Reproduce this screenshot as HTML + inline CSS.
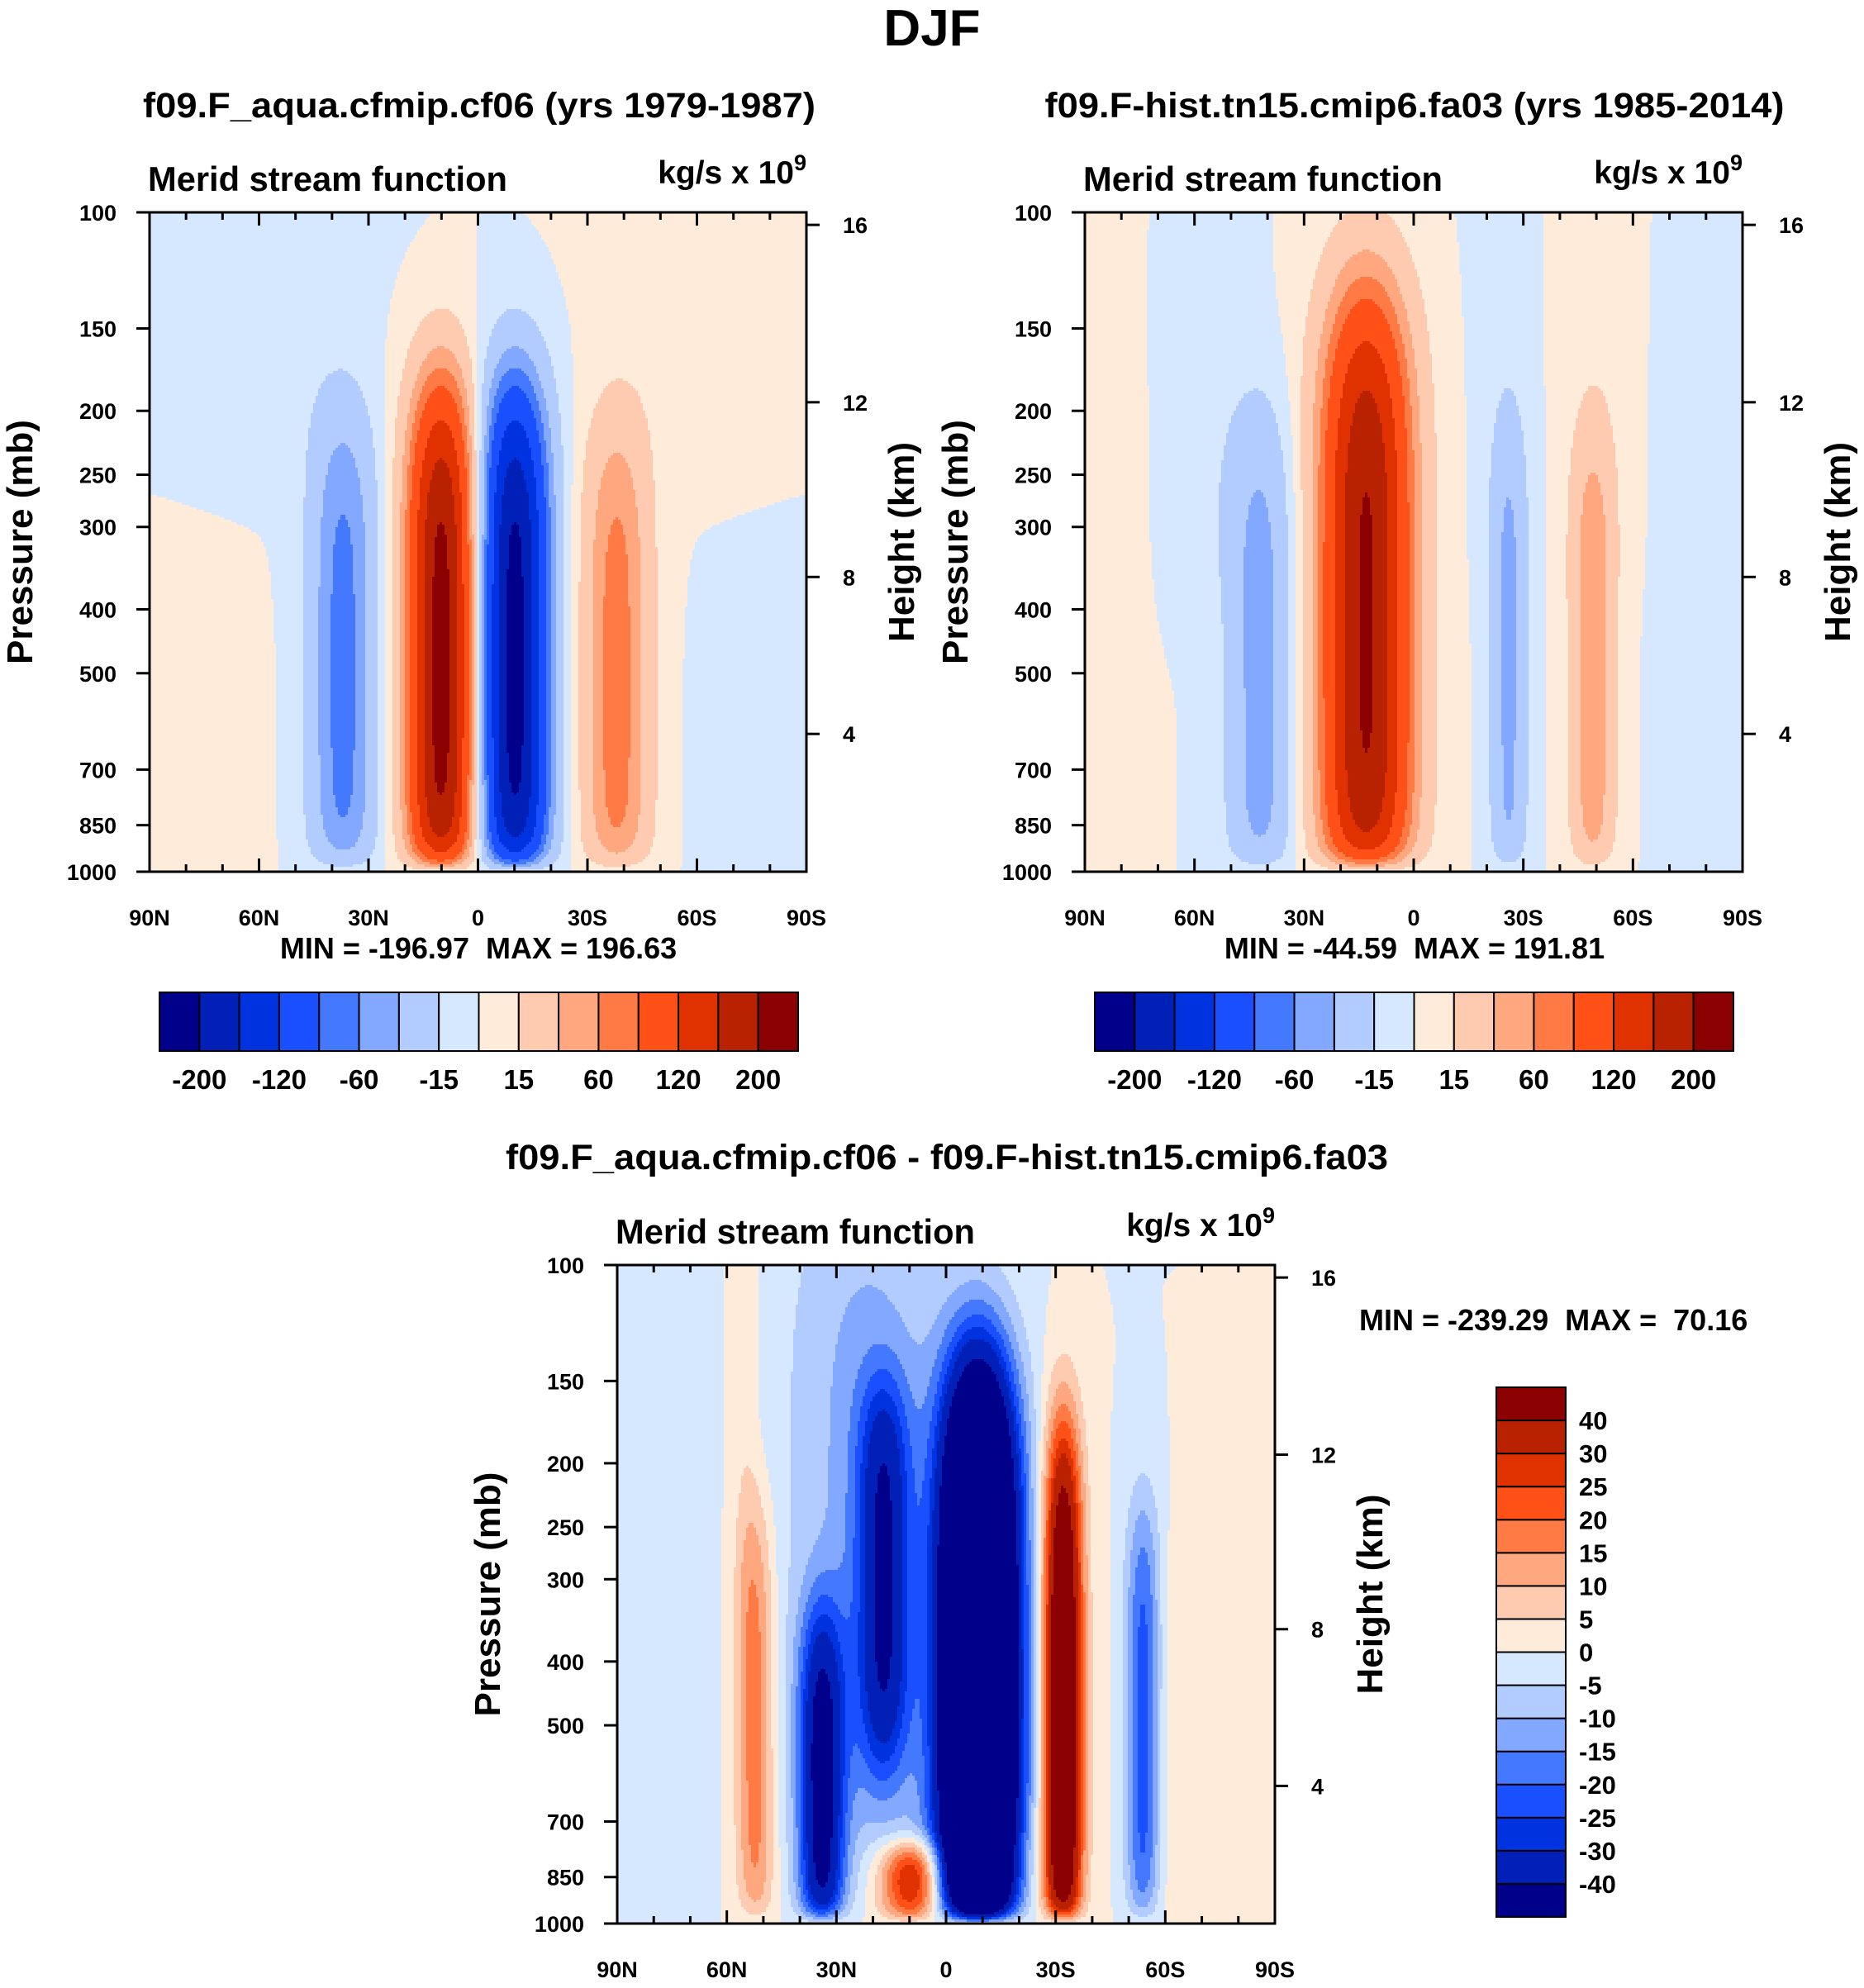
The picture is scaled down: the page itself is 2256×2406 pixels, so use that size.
<!DOCTYPE html>
<html><head><meta charset="utf-8">
<style>
body{margin:0;background:#fff;}
svg text{font-family:"Liberation Sans",Arial,sans-serif;font-weight:bold;fill:#000;}
</style></head>
<body>
<svg id="fig" xmlns="http://www.w3.org/2000/svg" width="2256" height="2401" viewBox="0 0 2256 2401">
<rect width="2256" height="2401" fill="#fff"/>
<text x="1128" y="55" font-size="62" text-anchor="middle">DJF</text>
<text x="580" y="142" font-size="43" text-anchor="middle" textLength="814" lengthAdjust="spacingAndGlyphs">f09.F_aqua.cfmip.cf06 (yrs 1979-1987)</text>
<text x="1712" y="142" font-size="43" text-anchor="middle" textLength="895" lengthAdjust="spacingAndGlyphs">f09.F-hist.tn15.cmip6.fa03 (yrs 1985-2014)</text>
<text x="1146" y="1415" font-size="43" text-anchor="middle" textLength="1068" lengthAdjust="spacingAndGlyphs">f09.F_aqua.cfmip.cf06 - f09.F-hist.tn15.cmip6.fa03</text>
<g id="plots"></g>
</svg>
<script>
// ---- Data: blob parameters (lat of centre, amplitude, lat width, centre pressure, vertical half-width in log p)
const p1Lat=[10,-10,37,-38,85,-85,60,-60];
const p1Amp=[215,-215,-68,70,10,-10,-8,8];
const p1Width=[9,9,9,9,20,20,25,25];
const p1Pc=[480,480,500,520,800,800,120,120];
const p1Hz=[0.42,0.42,0.4,0.4,0.35,0.35,0.3,0.3];
const p2Lat=[13,42,-26,-49,82,-82,58,-50,-25];
const p2Amp=[205,-50,-45,55,8,-10,-8,8,-6];
const p2Width=[12,9,5,6,8,12,12,10,8];
const p2Pc=[420,520,520,520,500,400,200,150,150];
const p2Hz=[0.5,0.42,0.4,0.38,0.7,0.7,0.3,0.4,0.4];
const p3Lat=[-9,-32,-54,52,34,17,9,22,-78,78,-58,-20,55];
const p3Amp=[-125,62,-26,17,-42,-32,40,-12,4,-3,5,6,4];
const p3Width=[10,5,5,5,6,7,9,22,8,10,10,8,4];
const p3Pc=[460,500,520,520,720,300,930,250,600,600,600,900,200];
const p3Hz=[0.5,0.45,0.36,0.36,0.33,0.3,0.09,0.55,0.4,0.5,0.4,0.12,0.6];
const topLevels=[-200,-160,-120,-80,-60,-40,-15,0,15,40,60,80,120,160,200];
const diffLevels=[-40,-30,-25,-20,-15,-10,-5,0,5,10,15,20,25,30,40];
const topCbLabels=["-200","-120","-60","-15","15","60","120","200"];
const diffCbLabels=["40","30","25","20","15","10","5","0","-5","-10","-15","-20","-25","-30","-40"];
const pTicks=[100,150,200,250,300,400,500,700,850,1000];
const hTicks=[16,12,8,4];
const hFrac=[0.019,0.288,0.553,0.791];
const latTicks=[90,60,30,0,-30,-60,-90];
const latLabels=["90N","60N","30N","0","30S","60S","90S"];
const colors=["#00008b","#0020b8","#0033e0","#1a4fff","#4478ff","#82a8ff","#b2ccff","#d6e8ff","#ffebd9","#ffcbb0","#ffa880","#ff7a45","#ff5018","#e03200","#b82200","#8b0000"];

const NS="http://www.w3.org/2000/svg";
const root=document.getElementById('plots');
function mk(tag,attrs,parent){const e=document.createElementNS(NS,tag);for(const k in attrs)e.setAttribute(k,attrs[k]);(parent||root).appendChild(e);return e;}
function txt(s,attrs,parent){const e=mk('text',attrs,parent);e.textContent=s;return e;}

function field(lat,p,B){
  const z=Math.log10(p/100);let v=0;
  for(let i=0;i<B.lat.length;i++){
    const zc=Math.log10(B.pc[i]/100);
    const dz=(z-zc)/B.hz[i];
    const V=Math.exp(-dz*dz*dz*dz)*(1-Math.exp(-(1.0001-z)/0.025));
    const dl=(lat-B.lat[i])/B.w[i];
    v+=B.amp[i]*Math.exp(-dl*dl)*V;
  }
  return v;
}
function levIdx(v,L){let k=0;while(k<L.length&&v>=L[k])k++;return k;}

function panel(P){
  const g=mk('g',{});
  
  
  const xs=lat=>P.x0+(90-lat)/180*P.w;
  const ys=p=>P.y0+(Math.log10(p)-2)*P.h;
  const fill=mk('g',{'shape-rendering':'crispEdges'},g);
  
  
  const st=3;const nc=Math.ceil(P.w/st),nr=Math.ceil(P.h/st);
  for(let r=0;r<nr;r++){
    const yy=r*st;const p=Math.pow(10,2+(yy+st/2)/P.h);
    let prev=-1,start=0;
    for(let c=0;c<=nc;c++){
      let k=-1;
      if(c<nc){const lat=90-(c*st+st/2)/P.w*180;k=levIdx(field(lat,p,P.B),P.levels);}
      if(k!==prev){
        if(prev>=0){
          const rc=mk('rect',{x:P.x0+start*st,y:P.y0+yy,width:Math.min((c-start)*st,P.w-start*st),height:Math.min(st+0.5,P.h-yy),fill:colors[prev]},fill);
          
          
        }
        prev=k;start=c;
      }
    }
  }
  const fr=mk('rect',{x:P.x0,y:P.y0,width:P.w,height:P.h,fill:'none',stroke:'#000','stroke-width':3},g);
  
  
  pTicks.forEach(p=>{
    const y=ys(p);
    mk('line',{x1:P.x0-16,x2:P.x0,y1:y,y2:y,stroke:'#000','stroke-width':3},g);
    const t=txt(String(p),{x:P.x0-40,y:y+10,'font-size':27,'text-anchor':'end'},g);
    
    
  });
  hTicks.forEach((h,i)=>{
    const y=P.y0+hFrac[i]*P.h;
    mk('line',{x1:P.x0+P.w,x2:P.x0+P.w+16,y1:y,y2:y,stroke:'#000','stroke-width':3},g);
    const t=txt(String(h),{x:P.x0+P.w+44,y:y+10,'font-size':27},g);
    
    
  });
  for(let lat=90;lat>=-90;lat-=10){
    const x=xs(lat);const L=(lat%30===0)?16:9;
    mk('line',{x1:x,x2:x,y1:P.y0,y2:P.y0+L,stroke:'#000','stroke-width':3},g);
    mk('line',{x1:x,x2:x,y1:P.y0+P.h,y2:P.y0+P.h-L,stroke:'#000','stroke-width':3},g);
  }
  latTicks.forEach((lat,i)=>{
    const t=txt(latLabels[i],{x:xs(lat),y:P.y0+P.h+65,'font-size':27,'text-anchor':'middle'},g);
    
    
  });
  const yt=txt('Pressure (mb)',{x:0,y:0,'font-size':44,'text-anchor':'middle',transform:`translate(${P.x0-142},${P.y0+P.h/2}) rotate(-90)`},g);
  
  
  const ht=txt('Height (km)',{x:0,y:0,'font-size':44,'text-anchor':'middle',transform:`translate(${P.x0+P.w+130},${P.y0+P.h/2}) rotate(-90)`},g);
  
  
  const lt=txt('Merid stream function',{x:P.x0-2,y:P.y0-26,'font-size':42,textLength:435,lengthAdjust:'spacingAndGlyphs'},g);
  
  
  const rt=txt('',{x:P.x0+P.w,y:P.y0-35,'font-size':39,'text-anchor':'end'},g);
  
  
  const t1=document.createElementNS(NS,'tspan');t1.textContent='kg/s x 10';rt.appendChild(t1);
  const t2=document.createElementNS(NS,'tspan');t2.textContent='9';t2.setAttribute('font-size','27');t2.setAttribute('dy','-16');rt.appendChild(t2);
  const mm=txt(P.minmax,{x:P.mmx,y:P.mmy,'font-size':36,'text-anchor':P.mmAnchor,'xml:space':'preserve'},g);
  
  
  mm.style.whiteSpace='pre';
}

function hColorbar(x0,y0,w,h,name){
  const g=mk('g',{});
  
  
  const bw=w/16;
  colors.forEach((c,i)=>{
    const r=mk('rect',{x:x0+i*bw,y:y0,width:bw,height:h,fill:c,stroke:'#000','stroke-width':2},g);
    
    
  });
  topCbLabels.forEach((s,i)=>{
    const t=txt(s,{x:x0+(2*i+1)*bw,y:y0+h+46,'font-size':33,'text-anchor':'middle'},g);
    
    
  });
}
function vColorbar(x0,y0,w,h,name){
  const g=mk('g',{});
  
  
  const bh=h/16;
  colors.forEach((c,i)=>{
    const r=mk('rect',{x:x0,y:y0+(15-i)*bh,width:w,height:bh,fill:c,stroke:'#000','stroke-width':2},g);
    
    
  });
  diffCbLabels.forEach((s,i)=>{
    const t=txt(s,{x:x0+w+16,y:y0+(i+1)*bh+11,'font-size':31},g);
    
    
  });
}

panel({name:'left-panel',x0:181,y0:257,w:795,h:798,levels:topLevels,
  B:{lat:p1Lat,amp:p1Amp,w:p1Width,pc:p1Pc,hz:p1Hz},
  minmax:'MIN = -196.97  MAX = 196.63',mmx:579,mmy:1160,mmAnchor:'middle'});
panel({name:'right-panel',x0:1313,y0:257,w:796,h:798,levels:topLevels,
  B:{lat:p2Lat,amp:p2Amp,w:p2Width,pc:p2Pc,hz:p2Hz},
  minmax:'MIN = -44.59  MAX = 191.81',mmx:1712,mmy:1160,mmAnchor:'middle'});
panel({name:'diff-panel',x0:747,y0:1531,w:796,h:797,levels:diffLevels,
  B:{lat:p3Lat,amp:p3Amp,w:p3Width,pc:p3Pc,hz:p3Hz},
  minmax:'MIN = -239.29  MAX =  70.16',mmx:1645,mmy:1610,mmAnchor:'start'});
hColorbar(193,1201,773,71,'left-colorbar');
hColorbar(1325,1201,773,71,'right-colorbar');
vColorbar(1811,1679,84,641,'diff-colorbar');
</script>
</body></html>
